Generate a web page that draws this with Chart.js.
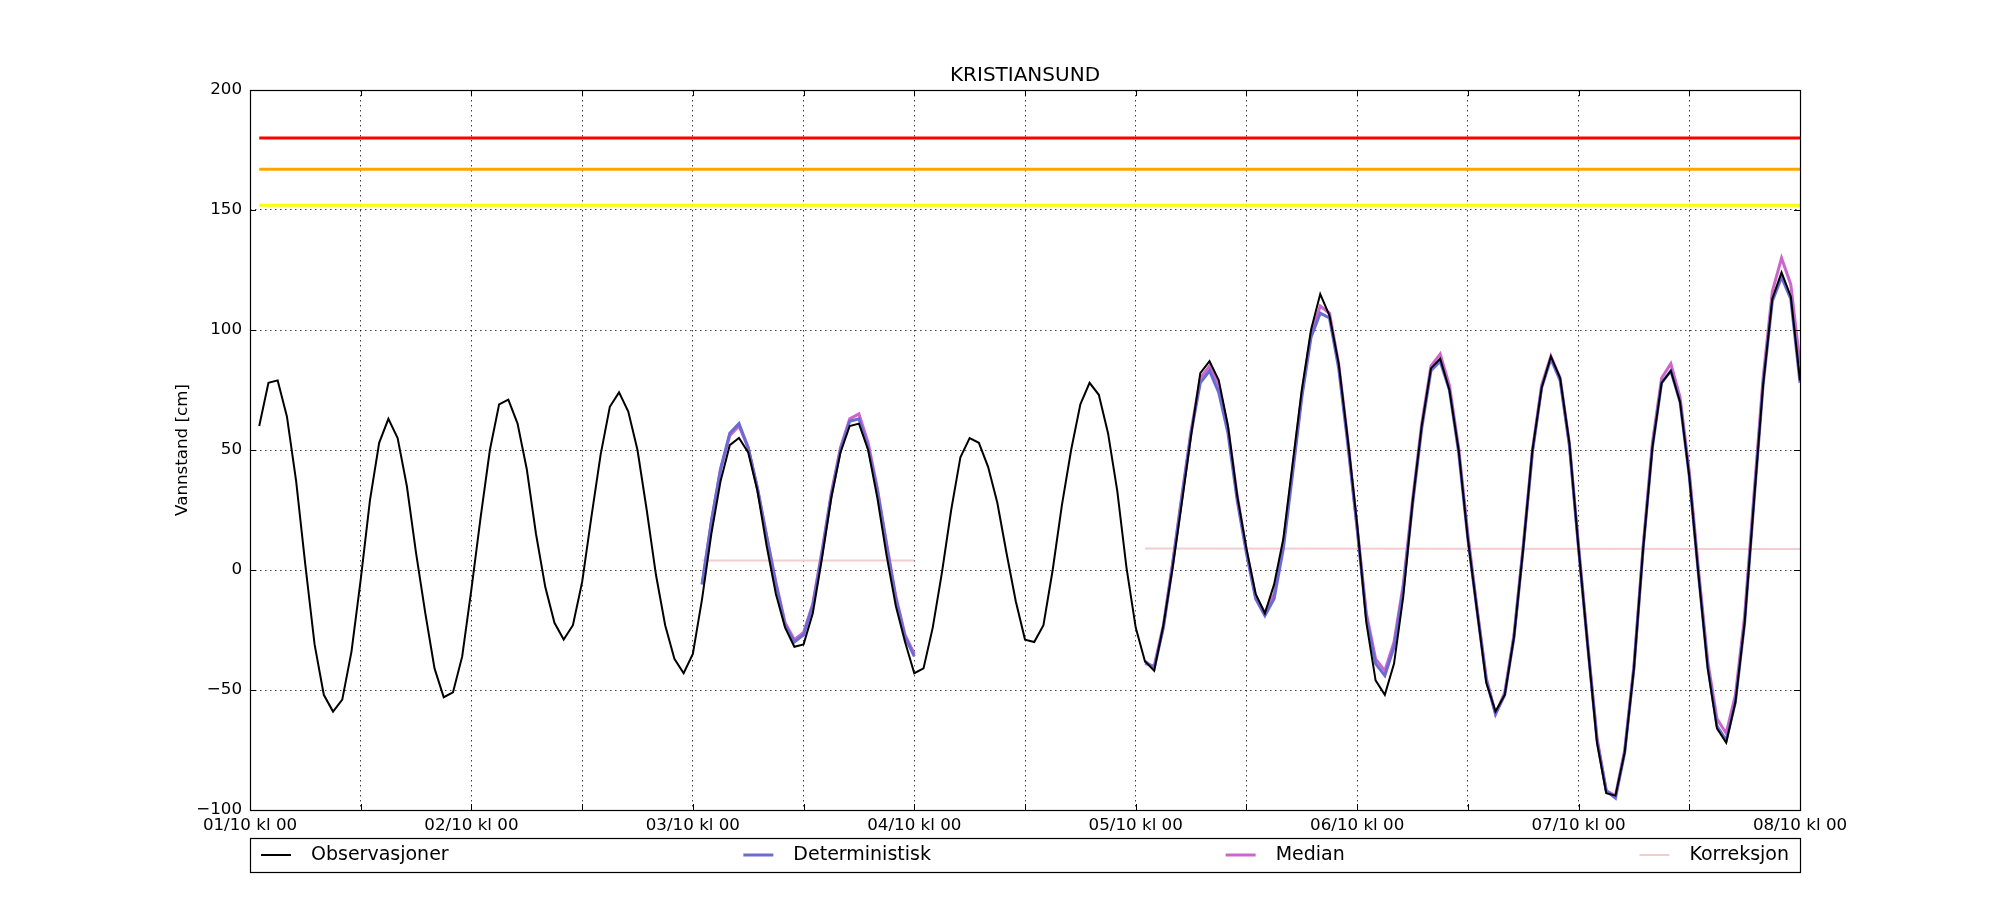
<!DOCTYPE html>
<html>
<head>
<meta charset="utf-8">
<script src="https://cdn.jsdelivr.net/npm/chart.js@4/dist/chart.umd.min.js"></script>
<style>
  html, body { margin: 0; padding: 0; background: #fff; }
  #wrap { width: 2000px; height: 900px; }
</style>
</head>
<body>
<div id="wrap"><canvas id="chart" width="2000" height="900"></canvas></div>
<script>
// x = hours since 01/10 kl 00
const xTickLabels = ["01/10 kl 00", "02/10 kl 00", "03/10 kl 00", "04/10 kl 00",
                     "05/10 kl 00", "06/10 kl 00", "07/10 kl 00", "08/10 kl 00"];

const obsStart = 1;
const observasjoner = [
  60, 78, 79, 64, 37, 2, -31, -52, -59, -54, -34, -4,
  29, 53, 63, 55, 35, 7, -18, -41, -53, -51, -36, -8,
  22, 50, 69, 71, 61, 42, 15, -7, -22, -29, -23, -5,
  22, 48, 68, 74, 66, 50, 25, -2, -23, -37, -43, -35,
  -12, 15, 37, 52, 55, 49, 33, 10, -10, -24, -32, -31,
  -18, 5, 30, 49, 60, 61, 50, 30, 6, -15, -30, -43,
  -41, -24, -1, 25, 47, 55, 53, 43, 28, 7, -13, -29,
  -30, -23, 0, 27, 50, 69, 78, 73, 57, 33, 1, -24,
  -38, -42, -23, 1, 28, 56, 82, 87, 79, 60, 31, 9,
  -10, -18, -6, 13, 44, 75, 100, 115, 106, 86, 54, 19,
  -22, -46, -52, -39, -11, 28, 60, 84, 88, 75, 50, 13,
  -17, -47, -59, -52, -28, 9, 50, 76, 89, 80, 53, 9,
  -32, -72, -93, -94, -76, -41, 9, 51, 78, 83, 70, 39,
  -2, -41, -66, -72, -55, -22, 28, 77, 113, 124, 114, 79
];

const fcStart1 = 49;
const deterministisk1 = [
  -6, 20, 42, 57, 61, 51, 34, 14, -6, -23, -30, -27,
  -15, 7, 31, 50, 62, 63, 51, 33, 10, -12, -28, -36
];
const median1 = [
  -6, 20, 42, 56, 60, 51, 34, 14, -5, -22, -29, -26,
  -14, 8, 32, 51, 63, 65, 53, 34, 11, -11, -27, -35
];

const fcStart2 = 97;
const deterministisk2 = [
  -38, -41, -24, 2, 30, 57, 78, 83, 74, 57, 29, 7,
  -12, -19, -12, 9, 40, 72, 97, 107, 105, 84, 52, 17,
  -20, -39, -44, -32, -8, 27, 59, 83, 87, 75, 49, 13,
  -17, -46, -60, -52, -28, 9, 49, 76, 88, 79, 52, 9,
  -32, -71, -92, -95, -76, -41, 9, 51, 78, 83, 70, 39,
  -2, -40, -65, -71, -55, -22, 28, 77, 112, 122, 113, 78
];
const median2 = [
  -39, -40, -23, 3, 31, 58, 80, 85, 77, 59, 31, 8,
  -11, -18, -10, 11, 42, 73, 98, 110, 107, 86, 54, 18,
  -18, -37, -42, -30, -6, 29, 61, 85, 90, 77, 51, 15,
  -16, -45, -60, -51, -27, 10, 50, 77, 89, 80, 53, 10,
  -31, -70, -92, -94, -75, -40, 10, 53, 80, 86, 72, 41,
  0, -38, -62, -68, -52, -19, 31, 80, 116, 130, 119, 86
];

const korreksjonHours = [49, 72, 84, 97, 168];
const korreksjonValues = [4, 4, null, 9, 8.7];

const thresholdHours = [1, 168];
const farenivaRod = 180;
const farenivaOransje = 167;
const farenivaGul = 152;

const FONT = "'DejaVu Sans', sans-serif";

function series(start, values) {
  return values.map((v, i) => ({ x: start + i, y: v }));
}
function twoParts(a, b) {
  // null point between the two forecast runs breaks the line
  return series(fcStart1, a).concat([{ x: 84, y: null }], series(fcStart2, b));
}
function flat(v) {
  return thresholdHours.map(h => ({ x: h, y: v }));
}

// frame, inward ticks and legend like the original
const framePlugin = {
  id: 'frame',
  afterDatasetsDraw(chart) {
    const { ctx, chartArea: a, scales } = chart;
    ctx.save();
    ctx.strokeStyle = '#000';
    ctx.lineWidth = 1;
    ctx.beginPath();
    scales.x.ticks.forEach(t => {
      const px = Math.round(scales.x.getPixelForValue(t.value)) + 0.5;
      ctx.moveTo(px, a.bottom); ctx.lineTo(px, a.bottom - 6);
      ctx.moveTo(px, a.top); ctx.lineTo(px, a.top + 6);
    });
    scales.y.ticks.forEach(t => {
      const py = Math.round(scales.y.getPixelForValue(t.value)) + 0.5;
      ctx.moveTo(a.left, py); ctx.lineTo(a.left + 6, py);
      ctx.moveTo(a.right, py); ctx.lineTo(a.right - 6, py);
    });
    ctx.stroke();
    ctx.lineWidth = 1.2;
    ctx.strokeRect(Math.round(a.left) + 0.5, Math.round(a.top) + 0.5,
                   Math.round(a.right - a.left), Math.round(a.bottom - a.top));
    ctx.restore();
  },
  afterDraw(chart) {
    const { ctx, chartArea: a } = chart;
    const items = chart.data.datasets.filter(d => d.inLegend);
    const top = 838, bottom = 872, mid = (top + bottom) / 2;
    ctx.save();
    ctx.font = '19px ' + FONT;
    ctx.textBaseline = 'middle';
    const handle = 30, gap = 20, pad = 11;
    const widths = items.map(d => handle + gap + ctx.measureText(d.label).width);
    const total = widths.reduce((s, w) => s + w, 0);
    const space = (a.right - a.left - 2 * pad - total) / (items.length - 1);
    ctx.fillStyle = '#fff';
    ctx.fillRect(a.left, top, a.right - a.left, bottom - top);
    ctx.strokeStyle = '#000';
    ctx.lineWidth = 1.2;
    ctx.strokeRect(Math.round(a.left) + 0.5, top + 0.5, Math.round(a.right - a.left), bottom - top);
    let x = a.left + pad;
    items.forEach((d, i) => {
      ctx.strokeStyle = d.borderColor;
      ctx.lineWidth = d.borderWidth;
      ctx.beginPath();
      ctx.moveTo(x, mid); ctx.lineTo(x + handle, mid);
      ctx.stroke();
      ctx.fillStyle = '#000';
      ctx.fillText(d.label, x + handle + gap, mid);
      x += widths[i] + space;
    });
    ctx.restore();
  }
};

new Chart(document.getElementById('chart'), {
  type: 'line',
  data: {
    datasets: [
      { label: 'Observasjoner', data: series(obsStart, observasjoner),
        borderColor: '#000000', borderWidth: 2, inLegend: true },
      { label: 'Deterministisk', data: twoParts(deterministisk1, deterministisk2),
        borderColor: '#6b6bd4', borderWidth: 3, inLegend: true },
      { label: 'Median', data: twoParts(median1, median2),
        borderColor: '#cc66cc', borderWidth: 3, inLegend: true },
      { label: 'Korreksjon', data: korreksjonHours.map((h, i) => ({ x: h, y: korreksjonValues[i] })),
        borderColor: '#f2cdd0', borderWidth: 2, inLegend: true },
      { label: 'rod', data: flat(farenivaRod), borderColor: '#ff0000', borderWidth: 3 },
      { label: 'oransje', data: flat(farenivaOransje), borderColor: '#ffa500', borderWidth: 3 },
      { label: 'gul', data: flat(farenivaGul), borderColor: '#ffff00', borderWidth: 3 }
    ]
  },
  options: {
    responsive: false,
    animation: false,
    layout: { padding: { left: 165, right: 200, top: 0, bottom: 0 } },
    elements: { point: { radius: 0 }, line: { tension: 0, fill: false } },
    plugins: {
      legend: { display: false },
      tooltip: { enabled: false },
      title: {
        display: true, text: 'KRISTIANSUND', color: '#000', fullSize: false,
        font: { family: FONT, size: 20, weight: 'normal' },
        padding: { top: 64, bottom: 2 }
      }
    },
    scales: {
      x: {
        type: 'linear', min: 0, max: 168,
        afterFit(s) { s.height = 90; },
        grid: { color: 'rgba(0,0,0,0.75)', lineWidth: 1, drawTicks: false },
        border: { display: false, dash: [1.5, 3.5] },
        ticks: {
          stepSize: 12, autoSkip: false, maxRotation: 0, padding: 6,
          color: '#000', font: { family: FONT, size: 16.7 },
          callback: v => (v % 24 === 0 ? xTickLabels[v / 24] : '')
        }
      },
      y: {
        min: -100, max: 200,
        afterFit(s) { s.width = 85; },
        grid: { color: 'rgba(0,0,0,0.75)', lineWidth: 1, drawTicks: false },
        border: { display: false, dash: [1.5, 3.5] },
        ticks: {
          stepSize: 50, padding: 8, color: '#000',
          font: { family: FONT, size: 16.7 },
          callback: v => (v < 0 ? '\u2212' + Math.abs(v) : String(v))
        },
        title: {
          display: true, text: 'Vannstand [cm]', color: '#000',
          font: { family: FONT, size: 16.7 }, padding: { top: 8, bottom: 0 }
        }
      }
    }
  },
  plugins: [framePlugin]
});
</script>
</body>
</html>
